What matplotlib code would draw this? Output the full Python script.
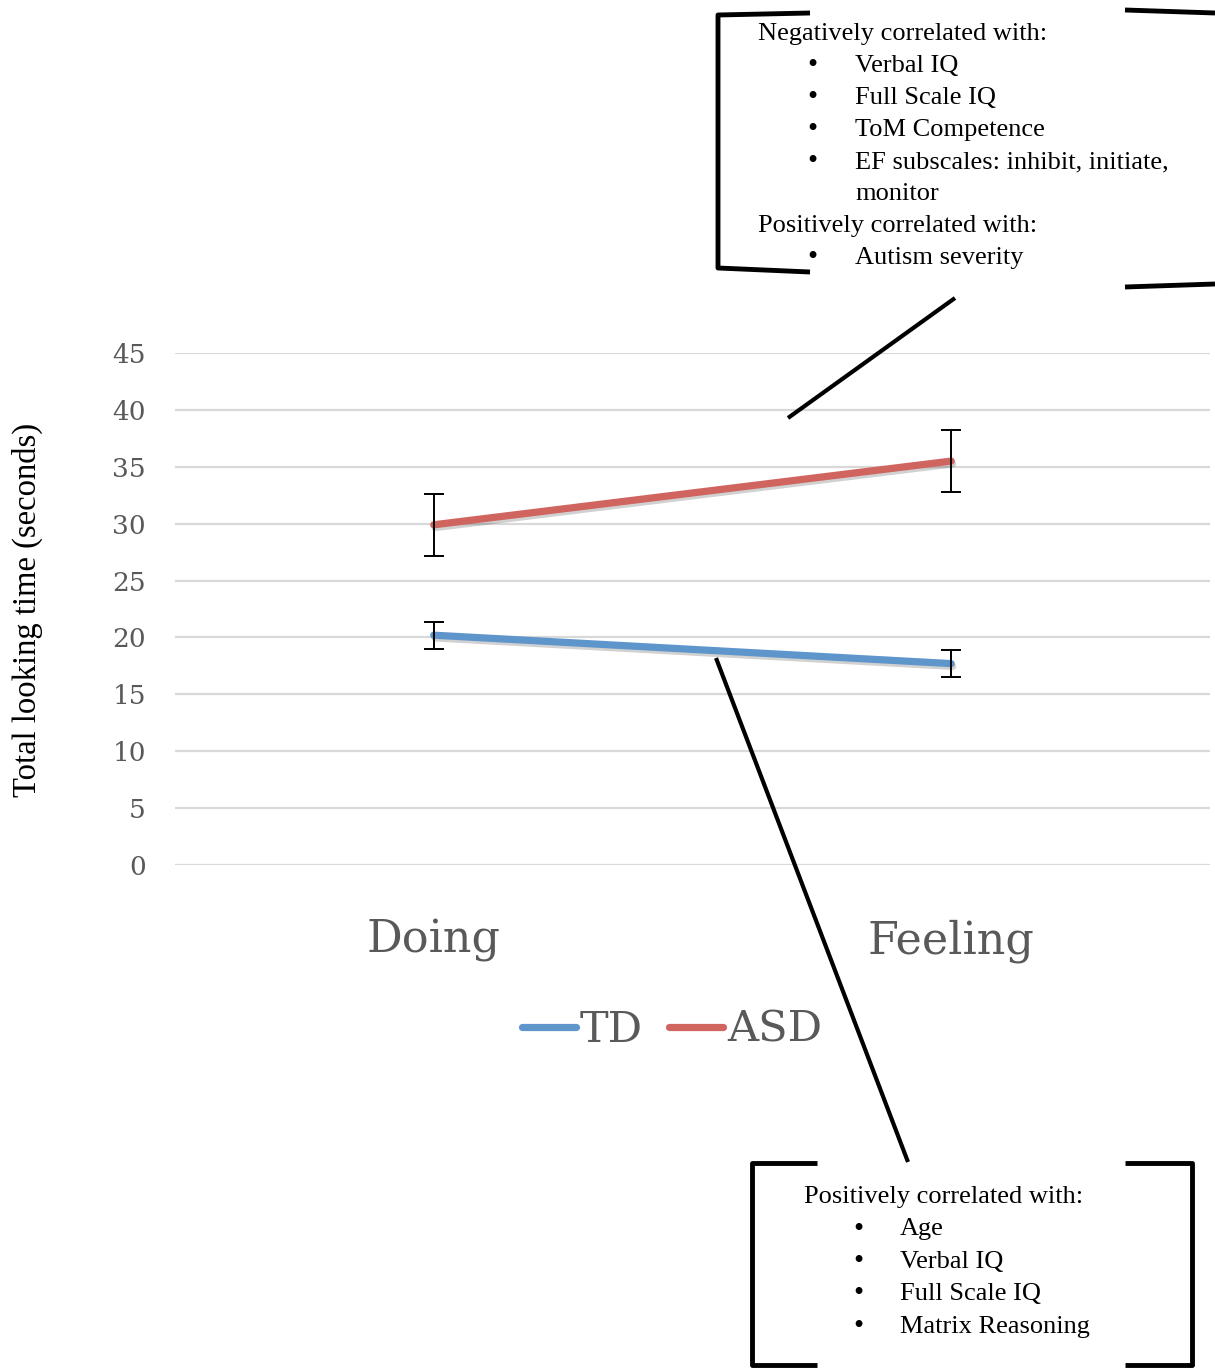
import matplotlib
matplotlib.use("Agg")
import matplotlib.pyplot as plt
import matplotlib.patheffects as pe
from matplotlib.lines import Line2D

# data
conditions = ["Doing", "Feeling"]
td_means = [20.2, 17.7]
td_err = [1.2, 1.2]
asd_means = [29.9, 35.5]
asd_err = [2.75, 2.7]
yticks = [0, 5, 10, 15, 20, 25, 30, 35, 40, 45]

top_note = ["Negatively correlated with:", "Verbal IQ", "Full Scale IQ",
            "ToM Competence", "EF subscales: inhibit, initiate,", "monitor",
            "Positively correlated with:", "Autism severity"]
top_bullet = [False, True, True, True, True, False, False, True]
top_indent = [False, True, True, True, True, True, False, True]
bottom_note = ["Positively correlated with:", "Age", "Verbal IQ",
               "Full Scale IQ", "Matrix Reasoning"]

W, H = 1215, 1368
grey = "#595959"
serif = "Liberation Serif"
tick_font = "DejaVu Serif"

fig = plt.figure(figsize=(W / 100, H / 100), dpi=100)


def fx(px):
    return px / W


def fy(py):
    return 1 - py / H


ax = fig.add_axes([fx(175), fy(865), fx(1210) - fx(175), fy(353) - fy(865)])
x = range(len(conditions))
shadow = [pe.SimpleLineShadow(offset=(1, -2), alpha=0.18, shadow_color="black"), pe.Normal()]

ax.plot(x, td_means, color="#5E96CC", lw=5.2, solid_capstyle="round", path_effects=shadow, zorder=3)
ax.plot(x, asd_means, color="#D0645F", lw=5.2, solid_capstyle="round", path_effects=shadow, zorder=3)
ax.errorbar(x, td_means, yerr=td_err, fmt="none", ecolor="black", elinewidth=1.4, capsize=7, capthick=1.4, zorder=4)
ax.errorbar(x, asd_means, yerr=asd_err, fmt="none", ecolor="black", elinewidth=1.4, capsize=7, capthick=1.4, zorder=4)

ax.set_xlim(-0.5, 1.5)
ax.set_ylim(0, 45)
ax.set_yticks(yticks)
ax.set_xticks(list(x))
ax.set_xticklabels(conditions, fontsize=32, color=grey, fontfamily=tick_font)
ax.tick_params(axis="x", length=0, pad=39)
ax.tick_params(axis="y", length=0, pad=21, labelsize=19, labelcolor=grey)
for lab in ax.get_yticklabels():
    lab.set_fontfamily(tick_font)
ax.yaxis.grid(True, color="#d9d9d9", lw=1.6)
ax.set_axisbelow(True)
for s in ax.spines.values():
    s.set_visible(False)
ax.set_ylabel("Total looking time (seconds)", fontsize=23.5, fontfamily=serif, color="black")
aw = fx(1210) - fx(175)
ah = fy(353) - fy(865)
ax.yaxis.set_label_coords((fx(43) - fx(175)) / aw, (fy(610) - fy(865)) / ah)

handles = [Line2D([], [], color="#5E96CC", lw=5.2, solid_capstyle="round"),
           Line2D([], [], color="#D0645F", lw=5.2, solid_capstyle="round")]
fig.legend(handles, ["TD", "ASD"], loc="center", bbox_to_anchor=(fx(672), fy(1030)), ncol=2,
           frameon=False, handlelength=1.25, handletextpad=0.1, columnspacing=0.6,
           prop={"family": tick_font, "size": 31}, labelcolor=grey)


def line(xs, ys, lw=3.5):
    fig.add_artist(Line2D([fx(v) for v in xs], [fy(v) for v in ys], color="black", lw=lw,
                          solid_capstyle="butt", solid_joinstyle="round"))


# top callout
line([810, 718, 718, 810], [13, 15, 268, 272])
line([1125, 1215], [10, 13])
line([1125, 1215], [287, 284])
line([955, 788], [298, 418], lw=3)
for i, t in enumerate(top_note):
    yy = 34 + i * 32
    if top_bullet[i]:
        fig.text(fx(812), fy(yy), "\u2022", fontsize=21, fontfamily=serif, ha="center", va="center")
    fig.text(fx(855 if top_indent[i] else 758), fy(yy), t, fontsize=19, fontfamily=serif, va="center")

# bottom callout
line([817, 752, 752, 817], [1163, 1163, 1365, 1365])
line([1125, 1192, 1192, 1125], [1163, 1163, 1365, 1365])
line([716, 908], [658, 1162], lw=3)
for i, t in enumerate(bottom_note):
    yy = 1197 + i * 32.5
    if i > 0:
        fig.text(fx(858), fy(yy), "\u2022", fontsize=21, fontfamily=serif, ha="center", va="center")
    fig.text(fx(900 if i > 0 else 804), fy(yy), t, fontsize=19, fontfamily=serif, va="center")

fig.savefig("out.png", dpi=100)
